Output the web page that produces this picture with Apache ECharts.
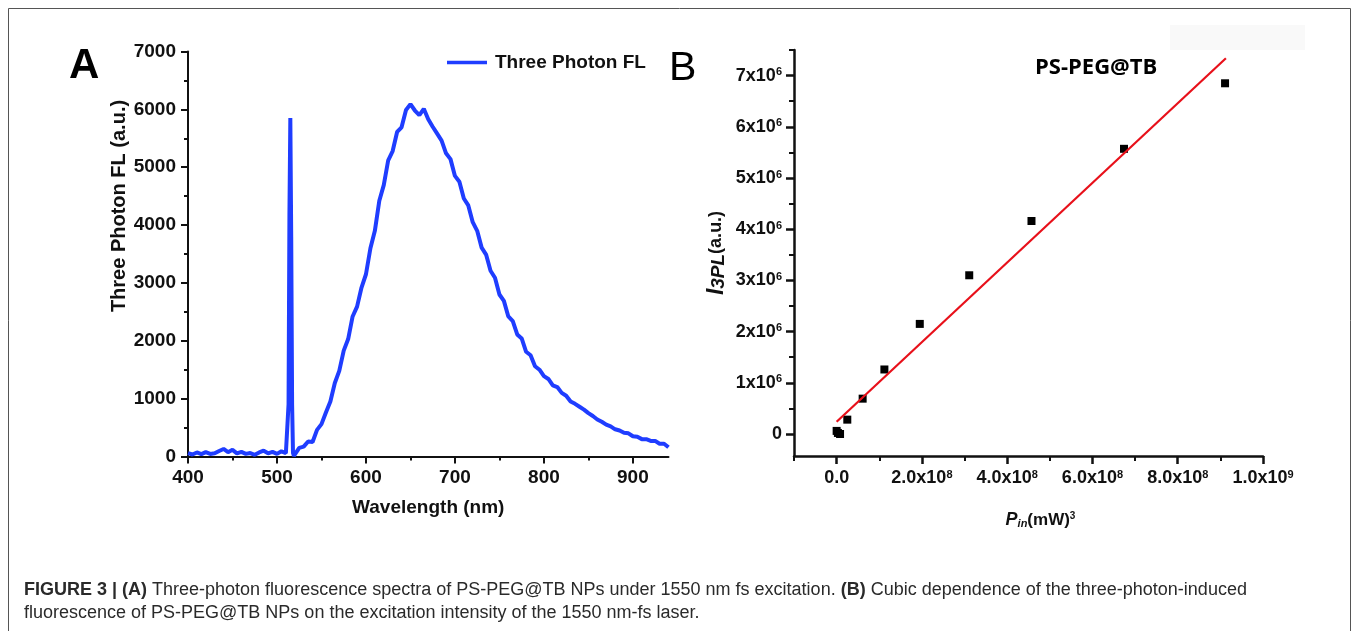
<!DOCTYPE html>
<html><head><meta charset="utf-8">
<script src="https://cdn.jsdelivr.net/npm/echarts@6/dist/echarts.min.js"></script>
<style>html,body{margin:0;padding:0;background:#fff}#c{width:1358px;height:631px}</style>
</head><body><div id="c"></div>
<script>
// ---------- Panel A data ----------
const wavelength = [400,405,410,415,420,425,430,435,440,445,450,455,460,465,470,475,480,485,490,495,500,505,510,
  512,513,514,515,516,517,518,519,
  520,525,530,535,540,545,550,555,560,565,570,575,580,585,590,595,
  600,605,610,615,620,625,630,635,640,645,650,655,660,665,670,675,680,685,690,695,
  700,705,710,715,720,725,730,735,740,745,750,755,760,765,770,775,780,785,790,795,
  800,805,810,815,820,825,830,835,840,845,850,855,860,865,870,875,880,885,890,895,
  900,905,910,915,920,925,930,935,940];
const intensity = [60,35,70,40,75,45,55,95,130,75,115,55,80,45,60,30,70,100,55,80,45,90,60,
  70,900,4200,5850,3800,900,60,10,
  30,150,170,260,250,460,560,760,950,1270,1480,1830,2030,2420,2590,2920,
  3150,3600,3900,4420,4690,5120,5280,5610,5690,5990,6090,5980,5900,6010,5830,5700,5580,5460,5240,5140,
  4850,4750,4460,4340,4050,3900,3610,3490,3210,3090,2800,2690,2420,2340,2110,2040,1810,1750,1560,1500,
  1390,1340,1230,1200,1100,1050,950,910,860,810,750,700,640,600,550,520,470,450,410,400,
  350,340,300,300,270,270,220,220,160];
const aXTicks = [400,500,600,700,800,900];
const aXMinor = [450,550,650,750,850];
const aYTicks = [0,1000,2000,3000,4000,5000,6000,7000];
const aYMinor = [500,1500,2500,3500,4500,5500,6500];

// ---------- Panel B data ----------
const powerCubed = [0.0e8,0.03e8,0.08e8,0.25e8,0.61e8,1.12e8,1.95e8,3.11e8,4.57e8,6.74e8,9.11e8];
const i3pl = [0.06e6,0.02e6,0.0,0.28e6,0.69e6,1.26e6,2.15e6,3.10e6,4.16e6,5.57e6,6.85e6];
const fitX = [0, 9.13e8];
const fitY = [0.24e6, 7.34e6];
const bXTicks = [0,2e8,4e8,6e8,8e8,1e9];
const bXMinor = [-1e8,1e8,3e8,5e8,7e8,9e8];
const bYTicks = [0,1e6,2e6,3e6,4e6,5e6,6e6,7e6];
const bYMinor = [0.5e6,1.5e6,2.5e6,3.5e6,4.5e6,5.5e6,6.5e6,7.5e6];

const FONT = '"Liberation Sans", Arial, sans-serif';
const INK = '#111';
const BLUE = '#1f3dff';

function mainAxis(o) {
  return Object.assign({
    type: 'value', splitLine: {show: false},
    axisLine: {show: true, onZero: false, lineStyle: {color: INK, width: 2}},
    axisTick: {show: true, length: 7, lineStyle: {color: INK, width: 2}},
    axisLabel: {fontFamily: FONT, fontSize: 19, fontWeight: 'bold', color: INK, margin: 12},
    nameTextStyle: {fontFamily: FONT, fontSize: 19, fontWeight: 'bold', color: INK}
  }, o);
}
function minorAxis(o, vals, len) {
  return Object.assign({
    type: 'value', splitLine: {show: false},
    axisLine: {show: false, onZero: false},
    axisLabel: {show: false},
    axisTick: {show: true, customValues: vals, length: len, lineStyle: {color: INK, width: 2}}
  }, o);
}

const chart = echarts.init(document.getElementById('c'), null, {renderer: 'canvas'});
const supRich = {
  m: {fontFamily: FONT, fontSize: 18, fontWeight: 'bold', color: INK},
  s: {fontFamily: FONT, fontSize: 11, fontWeight: 'bold', color: INK, verticalAlign: 'top'}
};
const plain = function (v) { return String(v); };

const option = {
  animation: false,
  backgroundColor: '#fff',
  grid: [
    {left: 188, top: 51.5, width: 480.5, height: 405},
    {left: 794, top: 50, width: 469, height: 406}
  ],
  legend: {
    data: ['Three Photon FL'], left: 442, top: 48, padding: 5,
    icon: 'rect', itemWidth: 40, itemHeight: 3.5,
    textStyle: {fontFamily: FONT, fontSize: 19, fontWeight: 'bold', color: INK, padding: [0,0,0,3]}
  },
  xAxis: [
    mainAxis({gridIndex: 0, position: 'bottom', min: 400, max: 940,
      axisTick: {show: true, customValues: aXTicks, length: 7, lineStyle: {color: INK, width: 2}},
      axisLabel: {customValues: aXTicks, formatter: plain, fontFamily: FONT, fontSize: 19, fontWeight: 'bold', color: INK, margin: 12},
      name: 'Wavelength (nm)', nameLocation: 'middle', nameGap: 42}),
    minorAxis({gridIndex: 0, position: 'bottom', min: 400, max: 940}, aXMinor, 4),
    mainAxis({gridIndex: 1, position: 'bottom', min: -1e8, max: 1e9,
      axisLine: {show: true, onZero: false, lineStyle: {color: INK, width: 2.5}},
      axisTick: {show: true, customValues: bXTicks, length: 8, lineStyle: {color: INK, width: 2.5}},
      axisLabel: {customValues: bXTicks, margin: 13, rich: supRich,
        formatter: function (v) {
          if (v === 0) return '{m|0.0}';
          if (v >= 1e9) return '{m|' + (v / 1e9).toFixed(1) + 'x10}{s|9}';
          return '{m|' + (v / 1e8).toFixed(1) + 'x10}{s|8}';
        }},
      name: '{i|P}{b|in}{n|(mW)}{p|3}', nameLocation: 'middle', nameGap: 55,
      nameTextStyle: {padding: [0, 0, 0, 24], rich: {
        i: {fontFamily: FONT, fontSize: 18, fontStyle: 'italic', fontWeight: 'bold', color: INK},
        b: {fontFamily: FONT, fontSize: 11, fontStyle: 'italic', fontWeight: 'bold', color: INK, verticalAlign: 'bottom'},
        n: {fontFamily: FONT, fontSize: 17, fontWeight: 'bold', color: INK},
        p: {fontFamily: FONT, fontSize: 10, fontWeight: 'bold', color: INK, verticalAlign: 'top'}
      }}}),
    minorAxis({gridIndex: 1, position: 'bottom', min: -1e8, max: 1e9}, bXMinor, 5)
  ],
  yAxis: [
    mainAxis({gridIndex: 0, position: 'left', min: 0, max: 7000,
      axisTick: {show: true, customValues: aYTicks, length: 7, lineStyle: {color: INK, width: 2}},
      axisLabel: {customValues: aYTicks, formatter: plain, fontFamily: FONT, fontSize: 19, fontWeight: 'bold', color: INK, margin: 12},
      name: 'Three Photon FL (a.u.)', nameLocation: 'middle', nameRotate: 90, nameGap: 58,
      nameTextStyle: {fontFamily: FONT, fontSize: 20, fontWeight: 'bold', color: INK, padding: [0, 0, 0, 96]}}),
    minorAxis({gridIndex: 0, position: 'left', min: 0, max: 7000}, aYMinor, 4),
    mainAxis({gridIndex: 1, position: 'left', min: -0.43e6, max: 7.5e6,
      axisLine: {show: true, onZero: false, lineStyle: {color: INK, width: 2.5}},
      axisTick: {show: true, customValues: bYTicks, length: 8, lineStyle: {color: INK, width: 2.5}},
      axisLabel: {customValues: bYTicks, margin: 12, rich: supRich,
        formatter: function (v) {
          if (v === 0) return '{m|0}';
          return '{m|' + Math.round(v / 1e6) + 'x10}{s|6}';
        }},
      name: '{i|I}{b|3PL}{n|(a.u.)}', nameLocation: 'middle', nameRotate: 90, nameGap: 66,
      nameTextStyle: {rich: {
        i: {fontFamily: FONT, fontSize: 23, fontStyle: 'italic', fontWeight: 'bold', color: INK},
        b: {fontFamily: FONT, fontSize: 19, fontStyle: 'italic', fontWeight: 'bold', color: INK, verticalAlign: 'bottom'},
        n: {fontFamily: FONT, fontSize: 18, fontWeight: 'bold', color: INK}
      }}}),
    minorAxis({gridIndex: 1, position: 'left', min: -0.43e6, max: 7.5e6}, bYMinor, 5)
  ],
  series: [
    {name: 'Three Photon FL', type: 'line', xAxisIndex: 0, yAxisIndex: 0, symbol: 'none',
      data: wavelength.map((w, i) => [w, intensity[i]]),
      lineStyle: {color: BLUE, width: 4}, itemStyle: {color: BLUE}},
    {name: 'data', type: 'scatter', xAxisIndex: 2, yAxisIndex: 2, symbol: 'rect', symbolSize: 8,
      data: powerCubed.map((x, i) => [x, i3pl[i]]), itemStyle: {color: '#000', opacity: 1}},
    {name: 'fit', type: 'line', xAxisIndex: 2, yAxisIndex: 2, symbol: 'none',
      data: fitX.map((x, i) => [x, fitY[i]]), lineStyle: {color: '#e8101a', width: 2.2}}
  ],
  graphic: [
    {type: 'rect', shape: {x: 8.5, y: 8.5, width: 1342, height: 640}, style: {fill: 'none', stroke: '#555', lineWidth: 1}, silent: true},
    {type: 'rect', shape: {x: 1170, y: 25, width: 135, height: 25}, style: {fill: '#f9f9f9'}, silent: true, z: -1},
    {type: 'text', x: 69, y: 66, style: {text: 'A', font: 'bold 42px ' + FONT, fill: '#000', align: 'left', verticalAlign: 'middle'}},
    {type: 'text', x: 669, y: 69, style: {text: 'B', font: '41px ' + FONT, fill: '#000', align: 'left', verticalAlign: 'middle'}},
    {type: 'text', x: 1035, y: 68, style: {text: 'PS-PEG@TB', font: 'bold 22px "Open Sans", sans-serif', fill: '#000', align: 'left', verticalAlign: 'middle'}},
    {type: 'text', x: 24, y: 590, style: {
      text: '{b|FIGURE 3 | (A)} Three-photon fluorescence spectra of PS-PEG@TB NPs under 1550 nm fs excitation. {b|(B)} Cubic dependence of the three-photon-induced',
      font: '18px ' + FONT, fill: '#2a2a2a', align: 'left', verticalAlign: 'middle',
      rich: {b: {fontWeight: 'bold', fontSize: 18, fontFamily: FONT, fill: '#2a2a2a'}}}},
    {type: 'text', x: 24, y: 613, style: {
      text: 'fluorescence of PS-PEG@TB NPs on the excitation intensity of the 1550 nm-fs laser.',
      font: '18px ' + FONT, fill: '#2a2a2a', align: 'left', verticalAlign: 'middle'}}
  ]
};
chart.setOption(option);
</script>
</body></html>
